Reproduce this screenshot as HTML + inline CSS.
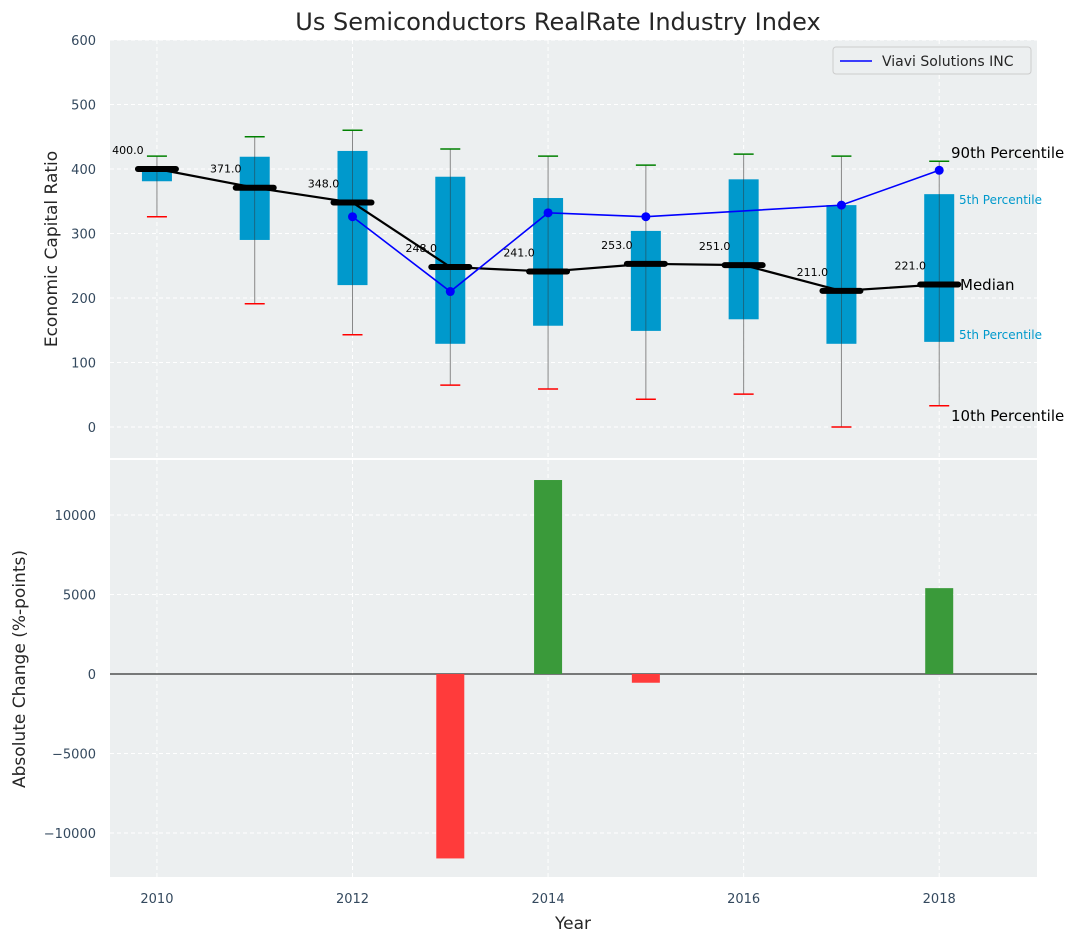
<!DOCTYPE html>
<html><head><meta charset="utf-8"><style>
body{margin:0;background:#fff;font-family:"Liberation Sans","DejaVu Sans",sans-serif}
svg text{font-family:"DejaVu Sans","Liberation Sans",sans-serif}
</style></head><body>
<svg id="c" width="1086" height="942" xmlns="http://www.w3.org/2000/svg"></svg>
<script>
const years=[2010,2011,2012,2013,2014,2015,2016,2017,2018];
const medians=[400,371,348,248,241,253,251,211,221];
const boxTop=[403,419,428,388,355,304,384,344,361];
const boxBottom=[381,290,220,129,157,149,167,129,132];
const whiskerTop=[420,450,460,431,420,406,423,420,412];
const whiskerBottom=[326,191,143,65,59,43,51,0,33];
const viaviYears=[2012,2013,2014,2015,2017,2018];
const viaviValues=[326,210,332,326,344,398];
const changeYears=[2013,2014,2015,2018];
const changeValues=[-11600,12200,-550,5400];
const topTicks=[0,100,200,300,400,500,600];
const botTicks=[-10000,-5000,0,5000,10000];
const xTicks=[2010,2012,2014,2016,2018];

const NS="http://www.w3.org/2000/svg";
const svg=document.getElementById('c');
function el(t,a,p){const e=document.createElementNS(NS,t);for(const k in a)e.setAttribute(k,a[k]);(p||svg).appendChild(e);return e;}
const L=110,R=1037;
const x=v=>L+(v-2009.52)/(2019-2009.52)*(R-L);
const T1=40,B1=458;
const y1=v=>427-(v)*0.645;
const T2=460,B2=877;
const y2=v=>674-v*0.0159;

// title
let t=el('text',{x:558,y:30,'text-anchor':'middle','font-size':24,fill:'#262626'});t.textContent='Us Semiconductors RealRate Industry Index';


// panels
let p1=el('rect',{x:L,y:T1,width:R-L,height:B1-T1,fill:'#eceff0'});

let p2=el('rect',{x:L,y:T2,width:R-L,height:B2-T2,fill:'#eceff0'});


// grids + ticks
xTicks.forEach(v=>{
  el('line',{x1:x(v),x2:x(v),y1:T1,y2:B1,stroke:'#fff','stroke-dasharray':'4,3'});
  el('line',{x1:x(v),x2:x(v),y1:T2,y2:B2,stroke:'#fff','stroke-dasharray':'4,3'});
  const tx=el('text',{x:x(v),y:903,'text-anchor':'middle','font-size':13,fill:'#34495e'});tx.textContent=v;
  
});
topTicks.forEach(v=>{
  el('line',{x1:L,x2:R,y1:y1(v),y2:y1(v),stroke:'#fff','stroke-dasharray':'4,3'});
  const tx=el('text',{x:96,y:y1(v)+5,'text-anchor':'end','font-size':13,fill:'#34495e'});tx.textContent=v;
  
});
botTicks.forEach(v=>{
  el('line',{x1:L,x2:R,y1:y2(v),y2:y2(v),stroke:'#fff','stroke-dasharray':'4,3'});
  const tx=el('text',{x:96,y:y2(v)+5,'text-anchor':'end','font-size':13,fill:'#34495e'});tx.textContent=String(v).replace('-','−');
  
});

// axis titles
t=el('text',{x:0,y:0,transform:'translate(57,249) rotate(-90)','text-anchor':'middle','font-size':17,fill:'#262626'});t.textContent='Economic Capital Ratio';

t=el('text',{x:0,y:0,transform:'translate(25,669) rotate(-90)','text-anchor':'middle','font-size':17,fill:'#262626'});t.textContent='Absolute Change (%-points)';

t=el('text',{x:573,y:929,'text-anchor':'middle','font-size':17,fill:'#262626'});t.textContent='Year';


// boxes
years.forEach((yr,i)=>{
  const cx=x(yr);
  const w=el('line',{x1:cx,x2:cx,y1:y1(whiskerTop[i]),y2:y1(whiskerBottom[i]),stroke:'#888','stroke-width':1});
  
  const b=el('rect',{x:cx-15,y:y1(boxTop[i]),width:30,height:y1(boxBottom[i])-y1(boxTop[i]),fill:'#0099cc'});
  
  el('line',{x1:cx,x2:cx,y1:y1(boxTop[i]),y2:y1(boxBottom[i]),stroke:'#333','stroke-width':0.8,opacity:0.6});
  const g=el('line',{x1:cx-10,x2:cx+10,y1:y1(whiskerTop[i]),y2:y1(whiskerTop[i]),stroke:'green','stroke-width':1.5});
  
  const r=el('line',{x1:cx-10,x2:cx+10,y1:y1(whiskerBottom[i]),y2:y1(whiskerBottom[i]),stroke:'red','stroke-width':1.5});
  
});
// median line
let ml=el('polyline',{points:years.map((yr,i)=>x(yr)+','+y1(medians[i])).join(' '),fill:'none',stroke:'#000','stroke-width':2.2});

years.forEach((yr,i)=>{
  const m=el('line',{x1:x(yr)-19,x2:x(yr)+19,y1:y1(medians[i]),y2:y1(medians[i]),stroke:'#000','stroke-width':6,'stroke-linecap':'round'});
  
  const lb=el('text',{x:x(yr)-29,y:y1(medians[i])-15,'text-anchor':'middle','font-size':11,fill:'#000'});lb.textContent=medians[i].toFixed(1);
  
});
// viavi
let vl=el('polyline',{points:viaviYears.map((yr,i)=>x(yr)+','+y1(viaviValues[i])).join(' '),fill:'none',stroke:'blue','stroke-width':1.6});

viaviYears.forEach((yr,i)=>{
  const c=el('circle',{cx:x(yr),cy:y1(viaviValues[i]),r:4.5,fill:'blue'});
  
});
// annotations
[['90th Percentile',951,158,15,'#000'],['5th Percentile',959,204,12,'#0099cc'],['Median',960,290,15,'#000'],['5th Percentile',959,339,12,'#0099cc'],['10th Percentile',951,421,15,'#000']].forEach(a=>{
  const tx=el('text',{x:a[1],y:a[2],'font-size':a[3],fill:a[4]});tx.textContent=a[0];
  
});
// legend
let lg=el('g',{});
el('rect',{x:833,y:47,width:198,height:27,rx:3,fill:'#eceff0',stroke:'#ccc'},lg);
el('line',{x1:840,x2:872,y1:61,y2:61,stroke:'blue','stroke-width':1.6},lg);
t=el('text',{x:882,y:66,'font-size':14,fill:'#262626'},lg);t.textContent='Viavi Solutions INC';

// bottom bars
el('line',{x1:L,x2:R,y1:y2(0),y2:y2(0),stroke:'#000','stroke-width':1});
changeYears.forEach((yr,i)=>{
  const v=changeValues[i];
  const b=el('rect',{x:x(yr)-14,y:Math.min(y2(v),y2(0)),width:28,height:Math.abs(y2(v)-y2(0)),fill:v>=0?'#3a9a3a':'#ff3b3b'});
  
});
</script>
</body></html>
